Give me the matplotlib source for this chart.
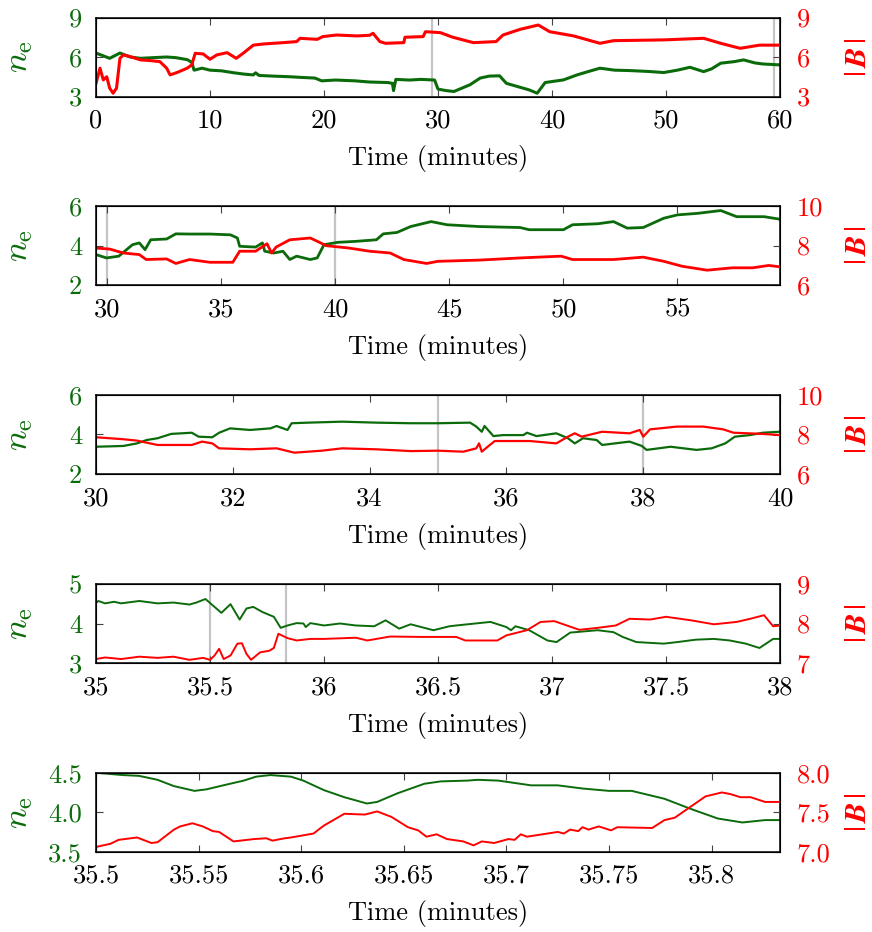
import numpy as np
import matplotlib
matplotlib.use('Agg')
import matplotlib.pyplot as plt
from matplotlib.ticker import FormatStrFormatter

plt.rcParams['font.family'] = 'cmr10'
plt.rcParams['mathtext.fontset'] = 'cm'
plt.rcParams['axes.unicode_minus'] = False
plt.rcParams['axes.formatter.use_mathtext'] = True
plt.rcParams['font.size'] = 19

green = '#0b6b0b'
red = '#ff0000'

# panel 1: 0-60 min
t_ne1 = [0.0, 0.6, 1.2, 2.1, 3.0, 3.9, 5.0, 6.2, 7.0, 8.0, 8.4, 8.6, 9.3, 10.0, 11.0, 12.1, 13.0, 13.8, 14.0,
         14.3, 15.5, 17.0, 18.0, 19.2, 19.8, 21.0, 22.7, 24.0, 25.6, 26.0, 26.1, 26.3, 27.5, 28.5, 29.7, 30.0,
         30.7, 31.4, 32.0, 32.8, 33.7, 34.5, 35.4, 36.0, 37.2, 38.0, 38.7, 39.4, 41.0, 42.2, 43.2, 44.2, 45.5,
         46.8, 48.5, 49.8, 51.0, 52.1, 53.3, 54.0, 54.8, 56.0, 56.8, 57.8, 58.5, 60.0]
ne1 = [6.3, 6.1, 5.9, 6.3, 6.0, 5.9, 5.95, 6.0, 5.95, 5.8, 5.6, 5.0, 5.15, 5.0, 4.95, 4.8, 4.7, 4.64, 4.8,
       4.6, 4.55, 4.5, 4.45, 4.4, 4.19, 4.25, 4.19, 4.1, 4.06, 4.0, 3.45, 4.3, 4.25, 4.3, 4.25, 3.56,
       3.45, 3.38, 3.6, 3.89, 4.4, 4.55, 4.57, 4.0, 3.7, 3.5, 3.25, 4.06, 4.26, 4.64, 4.9, 5.15, 5.0,
       4.97, 4.9, 4.82, 5.0, 5.22, 4.89, 5.1, 5.53, 5.65, 5.78, 5.55, 5.47, 5.4]
t_b1 = [0.0, 0.35, 0.64, 0.94, 1.2, 1.5, 1.8, 2.1, 2.4, 3.0, 3.9, 4.7, 5.6, 6.2, 6.5, 7.1, 8.0, 8.4, 8.7, 9.4,
        10.0, 10.6, 11.5, 12.3, 12.9, 13.8, 14.7, 16.4, 17.6, 17.9, 19.4, 19.9, 21.1, 22.9, 24.0, 24.3, 24.9,
        25.4, 27.0, 27.1, 28.7, 28.9, 30.2, 31.3, 33.1, 35.1, 35.7, 37.2, 38.8, 39.8, 41.9, 44.2, 45.4, 49.8,
        53.3, 54.8, 56.5, 58.2, 60.0]
b1 = [4.0, 5.15, 4.26, 4.5, 3.63, 3.25, 3.63, 5.9, 6.16, 6.03, 5.78, 5.73, 5.65, 5.15, 4.64, 4.82, 5.15, 5.4, 6.28, 6.23,
      5.83, 6.16, 6.33, 5.9, 6.28, 6.9, 6.99, 7.09, 7.17, 7.42, 7.34, 7.55, 7.67, 7.6, 7.65, 7.8, 7.17,
      7.04, 7.09, 7.5, 7.55, 7.92, 7.85, 7.5, 7.09, 7.17, 7.67, 8.1, 8.43, 7.92, 7.6, 7.04, 7.24, 7.3,
      7.42, 7.04, 6.66, 6.9, 6.9]

# panel 2: 29.5-59.5 min
t_ne2 = [29.5, 29.96, 30.5, 31.1, 31.4, 31.65, 31.9, 32.6, 33.0, 33.6, 34.5, 35.4, 35.7, 35.8, 36.5, 36.8, 36.9,
         37.3, 37.7, 38.0, 38.3, 38.9, 39.2, 39.5, 40.1, 40.9, 41.8, 42.1, 42.7, 43.3, 44.2, 44.9, 46.3, 48.1,
         48.5, 50.0, 50.4, 51.5, 52.2, 52.8, 53.5, 54.4, 55.0, 55.9, 56.9, 57.6, 58.8, 59.5]
ne2 = [3.54, 3.37, 3.46, 4.04, 4.13, 3.79, 4.29, 4.33, 4.59, 4.58, 4.58, 4.54, 4.38, 3.96, 3.92, 4.13, 3.71,
       3.62, 3.71, 3.29, 3.46, 3.29, 3.37, 4.04, 4.16, 4.21, 4.29, 4.59, 4.66, 4.96, 5.21, 5.05, 4.96, 4.91,
       4.8, 4.8, 5.05, 5.1, 5.21, 4.88, 4.91, 5.38, 5.55, 5.63, 5.77, 5.46, 5.46, 5.33]
t_b2 = [29.5, 30.1, 30.7, 31.4, 31.7, 32.6, 33.0, 33.6, 34.5, 35.5, 35.8, 36.5, 37.0, 37.2, 37.4, 38.0, 38.9,
        39.3, 39.6, 40.6, 41.5, 42.4, 43.0, 44.0, 44.5, 46.3, 48.1, 49.9, 50.4, 52.2, 53.5, 54.4, 55.2, 56.3,
        57.4, 58.3, 59.0, 59.5]
b2 = [7.87, 7.82, 7.62, 7.54, 7.29, 7.32, 7.09, 7.29, 7.15, 7.15, 7.71, 7.71, 8.09, 7.62, 7.92, 8.29, 8.38,
      8.16, 7.99, 7.87, 7.71, 7.62, 7.29, 7.09, 7.2, 7.26, 7.37, 7.46, 7.29, 7.29, 7.41, 7.2, 6.95, 6.75,
      6.87, 6.87, 6.99, 6.92]

# panel 3: 30-40 min
t_ne3 = [30.0, 30.4, 30.6, 30.74, 30.9, 31.1, 31.4, 31.5, 31.7, 31.8, 31.96, 32.25, 32.55, 32.64, 32.8, 32.86,
         33.1, 33.6, 34.1, 34.6, 35.0, 35.47, 35.56, 35.64, 35.68, 35.81, 35.95, 36.25, 36.3, 36.44, 36.73,
         36.9, 37.0, 37.12, 37.32, 37.4, 37.8, 37.98, 38.05, 38.4, 38.78, 39.0, 39.2, 39.34, 39.56, 39.75, 40.0]
ne3 = [3.38, 3.42, 3.55, 3.72, 3.81, 4.03, 4.09, 3.89, 3.86, 4.09, 4.31, 4.23, 4.31, 4.43, 4.23, 4.57,
       4.6, 4.65, 4.6, 4.57, 4.57, 4.6, 4.4, 4.14, 4.43, 3.92, 3.97, 3.97, 4.09, 3.92, 4.06,
       3.81, 3.55, 3.81, 3.72, 3.47, 3.64, 3.42, 3.22, 3.38, 3.22, 3.3, 3.55, 3.89, 3.97, 4.09, 4.14]
t_b3 = [30.0, 30.4, 30.6, 30.9, 31.4, 31.55, 31.7, 31.8, 32.25, 32.64, 32.9, 33.3, 33.6, 34.1, 34.6, 35.0,
        35.37, 35.56, 35.6, 35.64, 35.74, 35.83, 36.34, 36.73, 36.9, 37.0, 37.1, 37.4, 37.8, 37.95, 38.0,
        38.1, 38.49, 38.88, 39.17, 39.32, 39.75, 40.0]
b3 = [7.86, 7.76, 7.69, 7.47, 7.47, 7.64, 7.55, 7.3, 7.25, 7.3, 7.08, 7.18, 7.3, 7.25, 7.16, 7.18,
      7.13, 7.3, 7.55, 7.13, 7.42, 7.67, 7.67, 7.55, 7.89, 8.06, 7.89, 8.14, 8.06, 8.23, 7.89,
      8.26, 8.4, 8.4, 8.26, 8.09, 8.03, 7.97]

# panel 4: 35-38 min
t_ne4 = [35.0, 35.01, 35.04, 35.08, 35.11, 35.19, 35.27, 35.34, 35.41, 35.44, 35.48, 35.5, 35.55, 35.59, 35.63,
         35.66, 35.69, 35.73, 35.78, 35.81, 35.84, 35.88, 35.91, 35.92, 35.94, 36.0, 36.07, 36.14, 36.22,
         36.27, 36.33, 36.38, 36.48, 36.55, 36.58, 36.68, 36.73, 36.8, 36.82, 36.84, 36.9, 36.98, 37.02,
         37.08, 37.2, 37.27, 37.31, 37.37, 37.49, 37.55, 37.63, 37.71, 37.78, 37.85, 37.91, 37.97, 38.0]
ne4 = [4.52, 4.57, 4.51, 4.55, 4.51, 4.57, 4.51, 4.53, 4.48, 4.53, 4.62, 4.52, 4.27, 4.49, 4.1,
       4.38, 4.42, 4.29, 4.17, 3.89, 3.95, 4.01, 4.0, 3.91, 4.01, 3.95, 4.0, 3.95, 3.93,
       4.08, 3.87, 3.98, 3.83, 3.93, 3.95, 4.01, 4.04, 3.91, 3.83, 3.93, 3.83, 3.57, 3.53,
       3.77, 3.83, 3.78, 3.66, 3.53, 3.49, 3.53, 3.59, 3.61, 3.57, 3.49, 3.38, 3.61, 3.61]
t_b4 = [35.0, 35.04, 35.11, 35.19, 35.27, 35.34, 35.41, 35.47, 35.5, 35.52, 35.54, 35.56, 35.59, 35.62, 35.64,
        35.66, 35.68, 35.72, 35.76, 35.78, 35.8, 35.84, 35.88, 35.94, 36.0, 36.14, 36.19, 36.29, 36.43,
        36.58, 36.62, 36.68, 36.76, 36.8, 36.89, 36.95, 37.01, 37.05, 37.12, 37.2, 37.28, 37.34, 37.43,
        37.5, 37.61, 37.71, 37.81, 37.87, 37.93, 37.97, 38.0]
b4 = [7.1, 7.14, 7.1, 7.16, 7.13, 7.16, 7.08, 7.13, 7.08, 7.19, 7.36, 7.1, 7.19, 7.49, 7.5,
      7.23, 7.08, 7.27, 7.31, 7.38, 7.74, 7.63, 7.57, 7.61, 7.61, 7.64, 7.57, 7.67, 7.66,
      7.66, 7.57, 7.57, 7.57, 7.7, 7.83, 8.04, 8.06, 7.98, 7.84, 7.89, 7.95, 8.12, 8.1,
      8.17, 8.08, 7.98, 8.04, 8.12, 8.21, 7.93, 7.95]

# panel 5: 35.5-35.833 min
t_ne5 = [35.5, 35.513, 35.521, 35.53, 35.538, 35.548, 35.554, 35.562, 35.572, 35.578, 35.585, 35.595, 35.601,
         35.611, 35.621, 35.632, 35.637, 35.647, 35.66, 35.668, 35.681, 35.686, 35.696, 35.712, 35.725,
         35.737, 35.75, 35.761, 35.777, 35.79, 35.803, 35.815, 35.826, 35.834]
ne5 = [4.5, 4.47, 4.46, 4.41, 4.33, 4.27, 4.29, 4.34, 4.4, 4.45, 4.47, 4.45, 4.4,
       4.28, 4.19, 4.11, 4.13, 4.24, 4.36, 4.39, 4.4, 4.41, 4.4, 4.34, 4.34,
       4.3, 4.27, 4.27, 4.17, 4.04, 3.92, 3.87, 3.9, 3.9]
t_b5 = [35.5, 35.507, 35.511, 35.52, 35.527, 35.53, 35.538, 35.541, 35.547, 35.552, 35.557, 35.56, 35.567,
        35.577, 35.583, 35.586, 35.592, 35.595, 35.606, 35.611, 35.621, 35.631, 35.637, 35.644, 35.652,
        35.657, 35.661, 35.666, 35.671, 35.679, 35.684, 35.688, 35.694, 35.701, 35.704, 35.707, 35.71,
        35.725, 35.728, 35.731, 35.735, 35.737, 35.74, 35.745, 35.751, 35.754, 35.771, 35.777, 35.782,
        35.792, 35.797, 35.805, 35.809, 35.814, 35.819, 35.826, 35.834]
b5 = [7.06, 7.1, 7.15, 7.18, 7.11, 7.12, 7.28, 7.32, 7.36, 7.32, 7.26, 7.25, 7.13,
      7.16, 7.17, 7.14, 7.17, 7.18, 7.23, 7.33, 7.48, 7.47, 7.51, 7.44, 7.31,
      7.27, 7.19, 7.22, 7.16, 7.13, 7.08, 7.13, 7.11, 7.16, 7.15, 7.22, 7.19,
      7.25, 7.23, 7.28, 7.26, 7.31, 7.28, 7.32, 7.27, 7.31, 7.3, 7.4, 7.43,
      7.61, 7.7, 7.75, 7.73, 7.69, 7.69, 7.63, 7.63]

panels = [
    dict(tn=t_ne1, n=ne1, tb=t_b1, b=b1, xlim=(0, 60), xt=[0, 10, 20, 30, 40, 50, 60],
         nlim=(3, 9), nt=[3, 6, 9], blim=(3, 9), bt=[3, 6, 9], marks=[29.5, 59.5], lw=2.2, fmt='%g'),
    dict(tn=t_ne2, n=ne2, tb=t_b2, b=b2, xlim=(29.5, 59.5), xt=[30, 35, 40, 45, 50, 55],
         nlim=(2, 6), nt=[2, 4, 6], blim=(6, 10), bt=[6, 8, 10], marks=[30, 40], lw=2.0, fmt='%g'),
    dict(tn=t_ne3, n=ne3, tb=t_b3, b=b3, xlim=(30, 40), xt=[30, 32, 34, 36, 38, 40],
         nlim=(2, 6), nt=[2, 4, 6], blim=(6, 10), bt=[6, 8, 10], marks=[35, 38], lw=1.6, fmt='%g'),
    dict(tn=t_ne4, n=ne4, tb=t_b4, b=b4, xlim=(35, 38), xt=[35, 35.5, 36, 36.5, 37, 37.5, 38],
         nlim=(3, 5), nt=[3, 4, 5], blim=(7, 9), bt=[7, 8, 9], marks=[35.5, 35.833], lw=1.4, fmt='%g'),
    dict(tn=t_ne5, n=ne5, tb=t_b5, b=b5, xlim=(35.5, 35.8333),
         xt=[35.5, 35.55, 35.6, 35.65, 35.7, 35.75, 35.8],
         nlim=(3.5, 4.5), nt=[3.5, 4.0, 4.5], blim=(7.0, 8.0), bt=[7.0, 7.5, 8.0], marks=[], lw=1.4, fmt='%.1f'),
]

tops = [17.5, 206, 395, 584, 772.7]
W, H = 872, 932

fig = plt.figure(figsize=(W / 100, H / 100), dpi=100)
for p, top in zip(panels, tops):
    h = 79.0
    ax = fig.add_axes([96 / W, 1 - (top + h) / H, 684 / W, h / H])
    ax2 = ax.twinx()
    for m in p['marks']:
        ax.axvline(m, color='#c4c4c4', lw=1.6, zorder=0)
    ax.plot(p['tn'], p['n'], color=green, lw=p['lw'])
    ax2.plot(p['tb'], p['b'], color=red, lw=p['lw'])
    ax.set_xlim(p['xlim'])
    ax.set_xticks(p['xt'])
    ax.xaxis.set_major_formatter(FormatStrFormatter('%g'))
    ax.set_ylim(p['nlim'])
    ax.set_yticks(p['nt'])
    ax2.set_ylim(p['blim'])
    ax2.set_yticks(p['bt'])
    ax.yaxis.set_major_formatter(FormatStrFormatter(p['fmt']))
    ax2.yaxis.set_major_formatter(FormatStrFormatter(p['fmt']))
    ax.tick_params(axis='x', direction='in', top=True, bottom=True, length=5, color='#444444', pad=9)
    ax.tick_params(axis='y', direction='in', left=True, right=False, length=5, color='#444444',
                   labelcolor=green, pad=10)
    ax2.tick_params(axis='y', direction='in', right=True, length=5, color='#444444',
                    labelcolor=red, pad=12)
    for s in ax.spines.values():
        s.set_linewidth(1.1)
    ax.set_xlabel('Time (minutes)', labelpad=9)
    yc = 1 - (top + h / 2) / H
    fig.text(19 / W, yc, r'$n_\mathrm{e}$', color=green, rotation=90, ha='center', va='center', fontsize=25)
    fig.text(858 / W, yc, r'$|\,\mathbfit{B}\,|$', color=red, rotation=90, ha='center', va='center',
             fontsize=22, math_fontfamily='stix')

fig.savefig('out.png', dpi=100)
